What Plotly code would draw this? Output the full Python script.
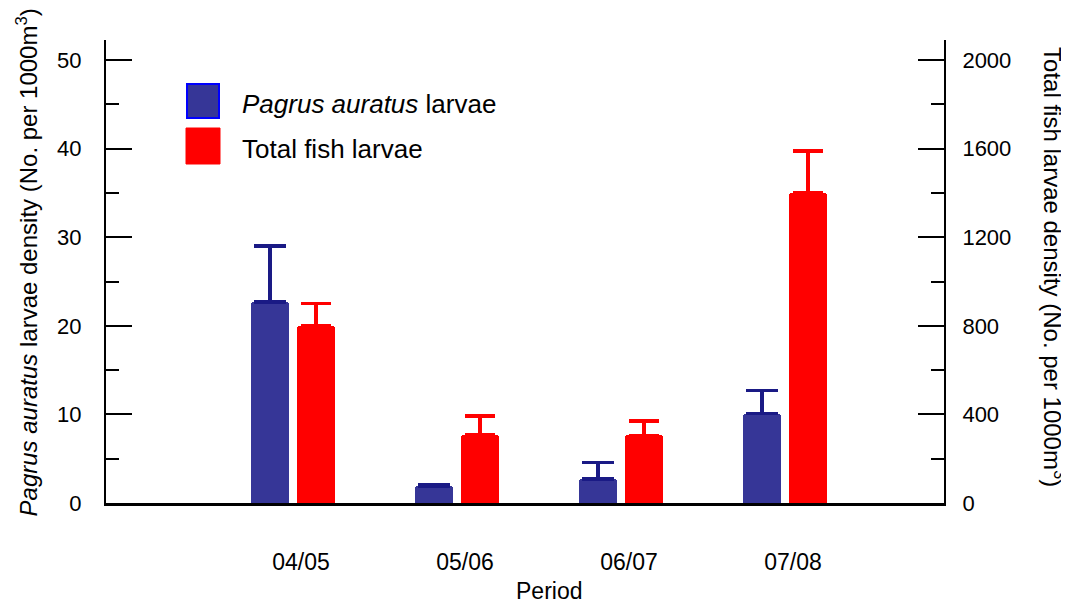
import plotly.graph_objects as go

periods = ["04/05", "05/06", "06/07", "07/08"]
pagrus = [22.7, 1.9, 2.7, 10.1]
pagrus_err = [6.3, 0.2, 1.9, 2.6]
total = [800, 307, 305, 1400]
total_err = [100, 86, 65, 190]
zeros = [0, 0, 0, 0]

left_ticks = [0, 10, 20, 30, 40, 50]
right_ticks = [0, 400, 800, 1200, 1600, 2000]

FONT = "Liberation Sans, Arial, Helvetica, sans-serif"
BLUE = "#363697"
RED = "#ff0000"

fig = go.Figure()
fig.add_trace(go.Bar(
    x=periods, y=pagrus, name="Pagrus auratus larvae",
    marker=dict(color=BLUE, cornerradius=3, line=dict(width=0)),
    width=0.232, offset=-0.305,
    error_y=dict(type="data", symmetric=False, array=pagrus_err, arrayminus=zeros,
                 color="#1a1a85", thickness=3.5, width=16),
    xaxis="x", yaxis="y", showlegend=False,
))
fig.add_trace(go.Bar(
    x=periods, y=total, name="Total fish larvae",
    marker=dict(color=RED, cornerradius=3, line=dict(width=0)),
    width=0.232, offset=-0.024,
    error_y=dict(type="data", symmetric=False, array=total_err, arrayminus=zeros,
                 color=RED, thickness=3.5, width=15),
    xaxis="x", yaxis="y2", showlegend=False,
))

# page body adds an 8px margin; compensate in figure size/margins
fig.update_layout(
    width=1061, height=596,
    margin=dict(l=98, r=125, t=32, b=101),
    paper_bgcolor="white", plot_bgcolor="white",
    font=dict(family=FONT, size=22, color="black"),
    xaxis=dict(
        type="category", categoryorder="array", categoryarray=periods,
        range=[-1.189, 3.921], ticks="", automargin=False,
        showline=True, linecolor="black", linewidth=3, showgrid=False, zeroline=False,
        ticklabelstandoff=36, tickfont=dict(size=23),
    ),
    yaxis=dict(
        range=[0, 52.26], tickmode="array", tickvals=left_ticks, automargin=False,
        ticks="inside", ticklen=26, tickwidth=2, tickcolor="black",
        minor=dict(ticks="inside", ticklen=13, tickwidth=2, dtick=5, tickcolor="black"),
        showline=True, linecolor="black", linewidth=2, showgrid=False, zeroline=False,
        ticklabelstandoff=18, tickfont=dict(size=22),
    ),
    yaxis2=dict(
        overlaying="y", side="right", anchor="x", automargin=False,
        range=[0, 2090.4], tickmode="array", tickvals=right_ticks,
        ticks="inside", ticklen=26, tickwidth=2, tickcolor="black",
        minor=dict(ticks="inside", ticklen=13, tickwidth=2, dtick=200, tickcolor="black"),
        showline=True, linecolor="black", linewidth=2, showgrid=False, zeroline=False,
        ticklabelstandoff=12, tickfont=dict(size=22),
    ),
    bargap=0, barmode="overlay",
)

# legend / title positions in plot-area fractions
def px_x(v):
    return (v - 106) / 838
def px_y(v):
    return (503 - v) / 463

# axis titles
fig.add_annotation(
    xref="paper", yref="paper", x=-0.094, y=0.52, xanchor="center", yanchor="middle",
    text="<i>Pagrus auratus</i> larvae density (No. per 1000m<sup>3</sup>)",
    textangle=-90, showarrow=False, font=dict(size=24),
)
fig.add_annotation(
    xref="paper", yref="paper", x=1.131, y=0.51, xanchor="center", yanchor="middle",
    text="Total fish larvae density (No. per 1000m<sup>3</sup>)",
    textangle=90, showarrow=False, font=dict(size=24),
)
fig.add_annotation(
    xref="paper", yref="paper", x=px_x(549), y=px_y(591), xanchor="center", yanchor="middle",
    text="Period", showarrow=False, font=dict(size=23),
)

fig.add_shape(type="rect", xref="paper", yref="paper",
              x0=px_x(187), x1=px_x(219), y0=px_y(118), y1=px_y(84),
              fillcolor=BLUE, line=dict(color="#0000ff", width=2))
fig.add_shape(type="rect", xref="paper", yref="paper",
              x0=px_x(186), x1=px_x(220), y0=px_y(164), y1=px_y(128),
              fillcolor=RED, line=dict(color=RED, width=1))
fig.add_annotation(xref="paper", yref="paper", x=px_x(240), y=px_y(104),
                   xanchor="left", yanchor="middle", showarrow=False,
                   text="<i>Pagrus auratus</i> larvae", font=dict(size=26))
fig.add_annotation(xref="paper", yref="paper", x=px_x(240), y=px_y(149),
                   xanchor="left", yanchor="middle", showarrow=False,
                   text="Total fish larvae", font=dict(size=26))

fig.write_html("out.html")
